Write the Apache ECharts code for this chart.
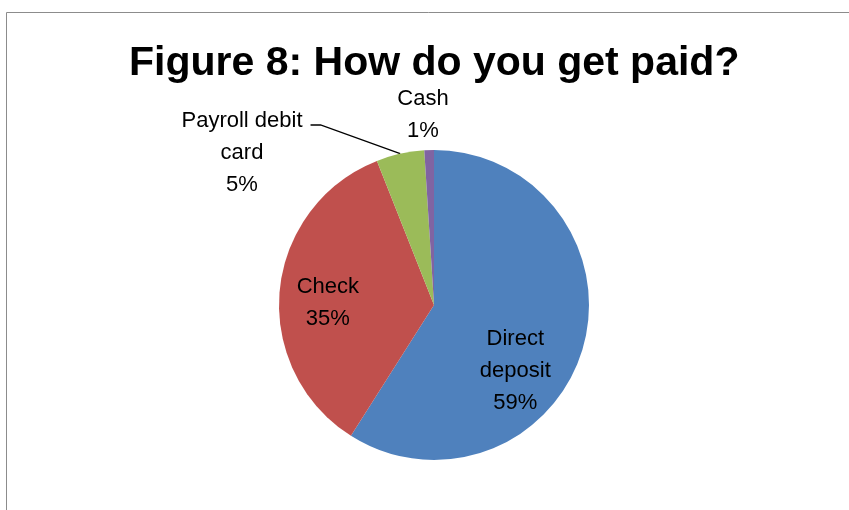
<!DOCTYPE html>
<html>
<head>
<meta charset="utf-8">
<script src="https://cdn.jsdelivr.net/npm/echarts@6/dist/echarts.min.js"></script>
<style>
  html, body { margin: 0; padding: 0; background: #fff; }
  #chart { width: 849px; height: 510px; }
</style>
</head>
<body>
<div id="chart"></div>
<script>
// Payment method shares (percent)
const categories = ['Direct\ndeposit', 'Check', 'Payroll debit\ncard', 'Cash'];
const shares = [59, 35, 5, 1];
const sliceColors = ['#4F81BD', '#C0504D', '#9BBB59', '#8064A2'];

const FONT = '"Liberation Sans", Arial, sans-serif';

// per-slice label offsets (relative to the library's own inside anchor)
const labelShift = [
  { dx: 4, dy: 43 },
  { dx: -26, dy: 6 },
  null,
  null
];

const chart = echarts.init(document.getElementById('chart'), null, { renderer: 'canvas' });

chart.setOption({
  animation: false,
  backgroundColor: '#ffffff',
  title: {
    text: 'Figure 8: How do you get paid?',
    left: 124,
    top: 38,
    textStyle: { fontFamily: FONT, fontSize: 41, fontWeight: 'bold', color: '#000' }
  },
  graphic: [{
    type: 'rect',
    shape: { x: 6.5, y: 12.5, width: 900, height: 600 },
    style: { fill: 'none', stroke: '#8c8c8c', lineWidth: 1 },
    silent: true
  }],
  series: [{
    type: 'pie',
    center: [434, 305],
    radius: 155,
    startAngle: 90,
    clockwise: true,
    avoidLabelOverlap: false,
    data: categories.map((name, i) => ({
      name,
      value: shares[i],
      itemStyle: { color: sliceColors[i] },
      label: i < 2 ? { position: 'inside' } : { position: 'outside' },
      labelLine: { show: i === 2, lineStyle: { color: '#000', width: 1.3 } }
    })),
    label: {
      formatter: p => p.name + '\n' + p.value + '%',
      fontFamily: FONT,
      fontSize: 22,
      lineHeight: 32,
      color: '#000',
      align: 'center'
    },
    labelLine: { length: 10, length2: 10, smooth: false },
    labelLayout: function (params) {
      const i = params.dataIndex;
      if (i === 2) {
        // callout sits to the upper left, leader joins the end of its first line
        const cx = 242, cy = 153;
        const right = cx + params.labelRect.width / 2 + 8;
        const lineY = cy - params.labelRect.height / 2 + 20;
        const edge = params.labelLinePoints ? params.labelLinePoints[0] : [403, 152];
        return {
          x: cx, y: cy, align: 'center', verticalAlign: 'middle',
          labelLinePoints: [edge, [right + 10, lineY], [right, lineY]]
        };
      }
      if (i === 3) {
        return { x: 423, y: 115, align: 'center', verticalAlign: 'middle' };
      }
      const s = labelShift[i];
      return { dx: s.dx, dy: s.dy };
    }
  }]
});
</script>
</body>
</html>
